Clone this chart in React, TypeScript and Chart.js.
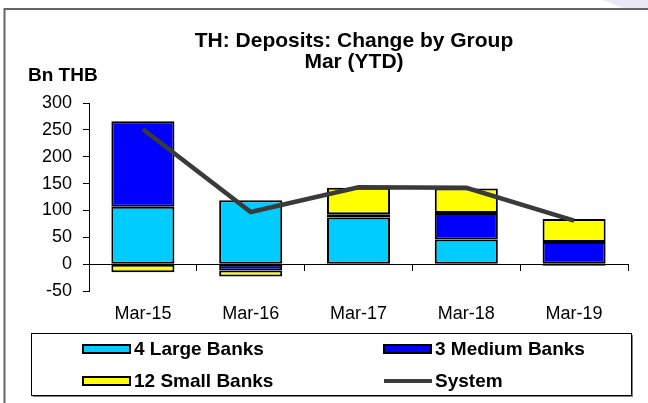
import React, { useEffect, useRef } from 'react';
import { Chart, registerables } from 'chart.js';

Chart.register(...registerables);

const categories = ['Mar-15', 'Mar-16', 'Mar-17', 'Mar-18', 'Mar-19'];
const largeBanks = [107, 119, 87, 46, -3];
const mediumBanks = [159, -12, 6, 49, 41];
const smallBanks = [-15, -11, 49, 46, 43];
const systemTotal = [251, 97, 143, 142, 81];
const yMin = -50;
const yMax = 300;
const yStep = 50;

const titleLines = ['TH: Deposits: Change by Group', 'Mar (YTD)'];
const unitLabel = 'Bn THB';

const FONT = '"Liberation Sans", Arial, Helvetica, sans-serif';

const decorPlugin = {
  id: 'decor',
  beforeDraw(chart: any) {
    const ctx = chart.ctx;
    ctx.save();
    ctx.fillStyle = '#ffffff';
    ctx.fillRect(0, 0, chart.width, chart.height);
    // corner decoration
    ctx.fillStyle = '#e9e9f5';
    ctx.beginPath();
    ctx.moveTo(603, 0);
    ctx.lineTo(chart.width, 0);
    ctx.lineTo(chart.width, 9);
    ctx.lineTo(626, 9);
    ctx.closePath();
    ctx.fill();
    // frame
    ctx.strokeStyle = '#666666';
    ctx.lineWidth = 2;
    ctx.beginPath();
    ctx.moveTo(4.5, chart.height);
    ctx.lineTo(4.5, 9);
    ctx.lineTo(chart.width, 9);
    ctx.stroke();
    ctx.restore();
  },
  afterDraw(chart: any) {
    const ctx = chart.ctx;
    ctx.save();
    ctx.fillStyle = '#000';
    ctx.textAlign = 'center';
    ctx.textBaseline = 'middle';
    ctx.font = `bold 21px ${FONT}`;
    ctx.fillText(titleLines[0], 354, 41);
    ctx.fillText(titleLines[1], 354, 62);
    ctx.textAlign = 'left';
    ctx.font = `bold 19px ${FONT}`;
    ctx.fillText(unitLabel, 28, 76);

    // legend box
    const bx = 31, by = 333, bw = 600, bh = 62;
    ctx.fillStyle = '#808080';
    ctx.fillRect(bx + 2, by + 2, bw, bh);
    ctx.fillStyle = '#ffffff';
    ctx.fillRect(bx, by, bw, bh);
    ctx.strokeStyle = '#000';
    ctx.lineWidth = 1;
    ctx.strokeRect(bx + 0.5, by + 0.5, bw, bh);

    const slots = [
      { x: 83, y: 349 },
      { x: 384, y: 349 },
      { x: 83, y: 381 },
      { x: 384, y: 381 },
    ];
    chart.data.datasets.forEach((ds: any, i: number) => {
      const s = slots[i];
      if (!s) return;
      if (ds.type === 'line') {
        ctx.strokeStyle = ds.borderColor;
        ctx.lineWidth = 4;
        ctx.beginPath();
        ctx.moveTo(s.x, s.y);
        ctx.lineTo(s.x + 48, s.y);
        ctx.stroke();
      } else {
        ctx.fillStyle = ds.backgroundColor;
        ctx.fillRect(s.x, s.y - 4, 47, 8);
        ctx.strokeStyle = '#000';
        ctx.lineWidth = 2;
        ctx.strokeRect(s.x, s.y - 4, 47, 8);
      }
      ctx.fillStyle = '#000';
      ctx.font = `bold 19px ${FONT}`;
      ctx.textAlign = 'left';
      ctx.textBaseline = 'middle';
      ctx.fillText(ds.label, s.x + 51, s.y + 1);
    });
    ctx.restore();
  },
};

export default function App() {
  const ref = useRef<HTMLCanvasElement | null>(null);
  useEffect(() => {
    document.body.style.margin = '0';
    const canvas = ref.current;
    if (!canvas) return;
    const barCommon = {
      type: 'bar' as const,
      borderColor: '#000000',
      borderWidth: 2,
      borderSkipped: false,
      barPercentage: 0.585,
      categoryPercentage: 1,
      stack: 'banks',
      order: 1,
    };
    const chart = new Chart(canvas, {
      data: {
        labels: categories,
        datasets: [
          { ...barCommon, label: '4 Large Banks', data: largeBanks, backgroundColor: '#00ccff' },
          { ...barCommon, label: '3 Medium Banks', data: mediumBanks, backgroundColor: '#0000ff' },
          { ...barCommon, label: '12 Small Banks', data: smallBanks, backgroundColor: '#ffff00' },
          {
            type: 'line',
            label: 'System',
            data: systemTotal,
            borderColor: '#3a3a3a',
            borderWidth: 4.5,
            pointRadius: 0,
            fill: false,
            tension: 0,
            stack: 'system',
            order: 0,
          },
        ] as any,
      },
      options: {
        responsive: false,
        animation: false,
        events: [],
        layout: { padding: { left: 0, top: 103, right: 20, bottom: 72 } },
        plugins: {
          legend: { display: false },
          tooltip: { enabled: false },
          title: { display: false },
        },
        scales: {
          x: {
            stacked: true,
            grid: { display: false, drawTicks: false },
            border: { display: false },
            ticks: { color: '#000', font: { family: FONT, size: 18 }, padding: 12 },
            afterFit: (s: any) => { s.height = 40; },
          },
          x2: {
            type: 'category',
            axis: 'x',
            labels: categories,
            position: { y: 0 },
            offset: true,
            grid: { offset: true, drawOnChartArea: false, drawTicks: true, tickLength: 6, color: '#000' },
            border: { display: true, color: '#000', width: 1 },
            ticks: { display: false },
            afterFit: (s: any) => { s.height = 0; },
          },
          y: {
            stacked: true,
            min: yMin,
            max: yMax,
            ticks: { stepSize: yStep, color: '#000', font: { family: FONT, size: 18 }, padding: 11 },
            grid: { drawOnChartArea: false, drawTicks: true, tickLength: 6, color: '#000' },
            border: { display: true, color: '#000', width: 1 },
            afterFit: (s: any) => { s.width = 89; },
          },
        } as any,
      },
      plugins: [decorPlugin],
    });
    return () => chart.destroy();
  }, []);
  return <canvas ref={ref} width={648} height={403} style={{ display: 'block' }} />;
}
